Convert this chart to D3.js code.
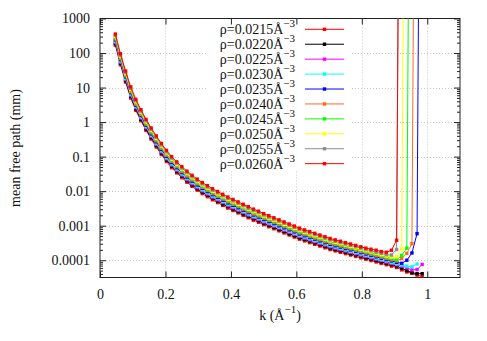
<!DOCTYPE html>
<meta charset="utf-8">
<style>
body { margin: 0; background: #fff; }
text { font-family: "Liberation Serif", "DejaVu Serif", serif; }
</style>
<body>
<script src="https://d3js.org/d3.v7.min.js"></script>
<script>

// k in 1/Angstrom
var kValues = [
  0.0469,0.0625,0.0781,0.0938,0.1094,0.125,0.1406,0.1563,0.1719,0.1875,
  0.2031,0.2188,0.2344,0.25,0.2656,0.2813,0.2969,0.3125,0.3281,0.3438,
  0.3594,0.375,0.3906,0.4063,0.4219,0.4375,0.4531,0.4688,0.4844,0.5,
  0.5156,0.5313,0.5469,0.5625,0.5781,0.5938,0.6094,0.625,0.6406,0.6563,
  0.6719,0.6875,0.7031,0.7188,0.7344,0.75,0.7656,0.7813,0.7969,0.8125,
  0.8281,0.8438,0.8594,0.875,0.8906,0.9063,0.9219,0.9375,0.9531,0.9688,
  0.9844];

// log10 of the mean free path (mm), one array per density
var lg0215 = [
  2.23,1.66,1.16,0.70,0.34,0.04,-0.24,-0.49,-0.72,-0.94,
  -1.14,-1.32,-1.47,-1.61,-1.74,-1.86,-1.97,-2.07,-2.16,-2.25,
  -2.33,-2.41,-2.49,-2.56,-2.63,-2.70,-2.77,-2.84,-2.90,-2.97,
  -3.03,-3.09,-3.15,-3.21,-3.27,-3.33,-3.39,-3.44,-3.49,-3.54,
  -3.59,-3.64,-3.69,-3.73,-3.77,-3.81,-3.85,-3.89,-3.93,-3.97,
  -4.01,-4.05,-4.09,-4.13,-4.17,-4.21,-4.28,-4.34,-4.38,-4.43,
  -4.48];
var lg0220 = [
  2.27,1.70,1.20,0.74,0.38,0.08,-0.20,-0.45,-0.68,-0.90,
  -1.10,-1.28,-1.43,-1.57,-1.70,-1.82,-1.93,-2.03,-2.12,-2.21,
  -2.29,-2.37,-2.45,-2.52,-2.59,-2.66,-2.73,-2.80,-2.86,-2.93,
  -2.99,-3.05,-3.11,-3.17,-3.23,-3.29,-3.35,-3.40,-3.45,-3.50,
  -3.55,-3.60,-3.65,-3.69,-3.73,-3.77,-3.81,-3.85,-3.89,-3.93,
  -3.97,-4.01,-4.05,-4.09,-4.13,-4.17,-4.23,-4.30,-4.36,-4.39,
  -4.39];
var lg0225 = [
  2.31,1.74,1.24,0.78,0.42,0.12,-0.16,-0.41,-0.64,-0.86,
  -1.06,-1.24,-1.39,-1.53,-1.66,-1.78,-1.89,-1.99,-2.08,-2.17,
  -2.25,-2.33,-2.41,-2.48,-2.55,-2.62,-2.69,-2.76,-2.82,-2.89,
  -2.95,-3.01,-3.07,-3.13,-3.19,-3.25,-3.31,-3.36,-3.41,-3.46,
  -3.51,-3.56,-3.61,-3.65,-3.69,-3.73,-3.77,-3.81,-3.85,-3.89,
  -3.93,-3.97,-4.01,-4.05,-4.09,-4.13,-4.17,-4.22,-4.28,-4.27,
  -4.12];
var lg0230 = [
  2.34,1.77,1.27,0.81,0.45,0.15,-0.13,-0.38,-0.61,-0.83,
  -1.03,-1.21,-1.36,-1.50,-1.63,-1.75,-1.86,-1.96,-2.05,-2.14,
  -2.22,-2.30,-2.38,-2.45,-2.52,-2.59,-2.66,-2.73,-2.79,-2.86,
  -2.92,-2.98,-3.04,-3.10,-3.16,-3.22,-3.28,-3.33,-3.38,-3.43,
  -3.48,-3.53,-3.58,-3.62,-3.66,-3.70,-3.74,-3.78,-3.82,-3.86,
  -3.90,-3.94,-3.98,-4.02,-4.06,-4.10,-4.14,-4.17,-4.19,-4.11];
var lg0235 = [
  2.38,1.81,1.31,0.85,0.49,0.19,-0.09,-0.34,-0.57,-0.79,
  -0.99,-1.17,-1.32,-1.46,-1.59,-1.71,-1.82,-1.92,-2.01,-2.10,
  -2.18,-2.26,-2.34,-2.41,-2.48,-2.55,-2.62,-2.69,-2.75,-2.82,
  -2.88,-2.94,-3.00,-3.06,-3.12,-3.18,-3.24,-3.29,-3.34,-3.39,
  -3.44,-3.49,-3.54,-3.58,-3.62,-3.66,-3.70,-3.74,-3.78,-3.82,
  -3.86,-3.90,-3.94,-3.98,-4.02,-4.06,-4.09,-4.00,-3.79,-3.23,
  20];
var lg0240 = [
  2.41,1.84,1.34,0.88,0.52,0.22,-0.06,-0.31,-0.54,-0.76,
  -0.96,-1.14,-1.29,-1.43,-1.56,-1.68,-1.79,-1.89,-1.98,-2.07,
  -2.15,-2.23,-2.31,-2.38,-2.45,-2.52,-2.59,-2.66,-2.72,-2.79,
  -2.85,-2.91,-2.97,-3.03,-3.09,-3.15,-3.21,-3.26,-3.31,-3.36,
  -3.41,-3.46,-3.51,-3.55,-3.59,-3.63,-3.67,-3.71,-3.75,-3.79,
  -3.83,-3.87,-3.91,-3.95,-3.99,-4.02,-3.95,-3.80,-3.52,20];
var lg0245 = [
  2.45,1.88,1.38,0.92,0.56,0.26,-0.02,-0.27,-0.50,-0.72,
  -0.92,-1.10,-1.25,-1.39,-1.52,-1.64,-1.75,-1.85,-1.94,-2.03,
  -2.11,-2.19,-2.27,-2.34,-2.41,-2.48,-2.55,-2.62,-2.68,-2.75,
  -2.81,-2.87,-2.93,-2.99,-3.05,-3.11,-3.17,-3.22,-3.27,-3.32,
  -3.37,-3.42,-3.47,-3.51,-3.55,-3.59,-3.63,-3.67,-3.71,-3.75,
  -3.79,-3.83,-3.87,-3.91,-3.95,-3.99,-3.86,-3.65,20];
var lg0250 = [
  2.48,1.91,1.41,0.95,0.59,0.29,0.01,-0.24,-0.47,-0.69,
  -0.89,-1.07,-1.22,-1.36,-1.49,-1.61,-1.72,-1.82,-1.91,-2.00,
  -2.08,-2.16,-2.24,-2.31,-2.38,-2.45,-2.52,-2.59,-2.65,-2.72,
  -2.78,-2.84,-2.90,-2.96,-3.02,-3.08,-3.14,-3.19,-3.24,-3.29,
  -3.34,-3.39,-3.44,-3.48,-3.52,-3.56,-3.60,-3.64,-3.68,-3.72,
  -3.76,-3.80,-3.84,-3.88,-3.91,-3.90,-3.67,20];
var lg0255 = [
  2.51,1.94,1.44,0.98,0.62,0.32,0.04,-0.21,-0.44,-0.66,
  -0.86,-1.04,-1.19,-1.33,-1.46,-1.58,-1.69,-1.79,-1.88,-1.97,
  -2.05,-2.13,-2.21,-2.28,-2.35,-2.42,-2.49,-2.56,-2.62,-2.69,
  -2.75,-2.81,-2.87,-2.93,-2.99,-3.05,-3.11,-3.16,-3.21,-3.26,
  -3.31,-3.36,-3.41,-3.45,-3.49,-3.53,-3.57,-3.61,-3.65,-3.69,
  -3.73,-3.77,-3.80,-3.84,-3.85,-3.69,20];
var lg0260 = [
  2.55,1.98,1.48,1.02,0.66,0.36,0.08,-0.17,-0.40,-0.62,
  -0.82,-1.00,-1.15,-1.29,-1.42,-1.54,-1.65,-1.75,-1.84,-1.93,
  -2.01,-2.09,-2.17,-2.24,-2.31,-2.38,-2.45,-2.52,-2.58,-2.65,
  -2.71,-2.77,-2.83,-2.89,-2.95,-3.01,-3.07,-3.12,-3.17,-3.22,
  -3.27,-3.32,-3.37,-3.41,-3.45,-3.49,-3.53,-3.57,-3.61,-3.65,
  -3.68,-3.71,-3.75,-3.77,-3.71,-3.42,20];

var densities = ["0.0215","0.0220","0.0225","0.0230","0.0235","0.0240","0.0245","0.0250","0.0255","0.0260"];
var logSeries = [lg0215, lg0220, lg0225, lg0230, lg0235, lg0240, lg0245, lg0250, lg0255, lg0260];
var colors = ["#ff0000","#000000","#ff00ff","#00ffff","#0000ff","#ff6a1f","#00ff00","#ffff00","#8c8c8c","#ff0000"];

var xTickValues = [0, 0.2, 0.4, 0.6, 0.8, 1];
var yTickValues = [0.0001, 0.001, 0.01, 0.1, 1, 10, 100, 1000];

var width = 487, height = 341;
var pLeft = 100, pRight = 460, pTop = 18.5, pBottom = 277.5;

var svg = d3.select("body").append("svg")
    .attr("width", width)
    .attr("height", height);

var x = d3.scaleLinear().domain([0, 1.1]).range([pLeft, pRight]);
var y = d3.scaleLog().domain([Math.pow(10, -4.5), 1000]).range([pBottom, pTop]);

// minor ticks for log axis
var minorTicks = [];
for (var e = -5; e < 3; e++) {
  for (var m = 2; m < 10; m++) {
    var v = m * Math.pow(10, e);
    if (v > y.domain()[0] && v < y.domain()[1]) minorTicks.push(v);
  }
}

// grid
var grid = svg.append("g").attr("stroke", "#c8c8c8").attr("stroke-dasharray", "1,2");
grid.selectAll(".gx").data(xTickValues.filter(function(d) { return d > 0; }))
  .enter().append("line")
    .attr("x1", function(d) { return Math.round(x(d)) + 0.5; })
    .attr("x2", function(d) { return Math.round(x(d)) + 0.5; })
    .attr("y1", pTop).attr("y2", pBottom);
grid.selectAll(".gy").data(yTickValues.filter(function(d) { return d < 1000; }))
  .enter().append("line")
    .attr("y1", function(d) { return Math.round(y(d)) + 0.5; })
    .attr("y2", function(d) { return Math.round(y(d)) + 0.5; })
    .attr("x1", pLeft).attr("x2", pRight);

// legend background hides the grid
svg.append("rect")
    .attr("x", 207).attr("y", 19).attr("width", 145).attr("height", 152)
    .attr("fill", "#fff");

function styleAxis(g) {
  g.select(".domain").remove();
  g.selectAll("line").attr("stroke", "#222");
  g.selectAll("text")
    .attr("font-family", "Liberation Serif, serif")
    .attr("font-size", 14)
    .attr("fill", "#111");
}

svg.append("g").attr("transform", "translate(" + pLeft + ",0)")
  .call(d3.axisLeft(y).tickValues(yTickValues).tickFormat(function(d) { return String(d); })
        .tickSize(-6).tickPadding(10))
  .call(styleAxis);
svg.append("g").attr("transform", "translate(" + pLeft + ",0)")
  .call(d3.axisLeft(y).tickValues(minorTicks).tickFormat("").tickSize(-3))
  .call(styleAxis);
svg.append("g").attr("transform", "translate(" + pRight + ",0)")
  .call(d3.axisRight(y).tickValues(yTickValues).tickFormat("").tickSize(-6))
  .call(styleAxis);
svg.append("g").attr("transform", "translate(" + pRight + ",0)")
  .call(d3.axisRight(y).tickValues(minorTicks).tickFormat("").tickSize(-3))
  .call(styleAxis);
svg.append("g").attr("transform", "translate(0," + pBottom + ")")
  .call(d3.axisBottom(x).tickValues(xTickValues).tickFormat(function(d) { return String(d); })
        .tickSize(-6).tickPadding(11.5))
  .call(styleAxis);
svg.append("g").attr("transform", "translate(0," + pTop + ")")
  .call(d3.axisTop(x).tickValues(xTickValues).tickFormat("").tickSize(-6))
  .call(styleAxis);

// border
svg.append("rect")
    .attr("x", pLeft).attr("y", pTop).attr("width", pRight - pLeft).attr("height", pBottom - pTop)
    .attr("fill", "none").attr("stroke", "#222").attr("stroke-width", 1);

// curves
svg.append("clipPath").attr("id", "plotclip")
  .append("rect").attr("x", pLeft).attr("y", pTop).attr("width", pRight - pLeft).attr("height", pBottom - pTop);

var line = d3.line()
    .x(function(d) { return x(d.k); })
    .y(function(d) { return y(d.v); });

var plot = svg.append("g").attr("clip-path", "url(#plotclip)");

logSeries.forEach(function(lg, j) {
  var pts = lg.map(function(l, i) { return {k: kValues[i], v: Math.pow(10, l)}; });
  plot.append("path")
      .datum(pts)
      .attr("fill", "none")
      .attr("stroke", colors[j])
      .attr("stroke-width", 1)
      .attr("d", line);
  plot.selectAll(".m" + j)
    .data(pts)
    .enter().append("rect")
      .attr("x", function(d) { return x(d.k) - 1.7; })
      .attr("y", function(d) { return y(d.v) - 1.7; })
      .attr("width", 3.4).attr("height", 3.4)
      .attr("fill", colors[j]);
});

// legend
var legend = svg.append("g");
densities.forEach(function(name, j) {
  var ly = 29.3 + j * 14.93;
  var t = legend.append("text")
      .attr("x", 295).attr("y", ly + 5)
      .attr("text-anchor", "end")
      .attr("font-size", 14)
      .attr("fill", "#111");
  t.append("tspan").text("ρ=" + name + "Å");
  t.append("tspan").attr("dy", -7).attr("font-size", 11).text("−3");
  legend.append("line")
      .attr("x1", 305).attr("x2", 344).attr("y1", ly).attr("y2", ly)
      .attr("stroke", colors[j]).attr("stroke-width", 1);
  legend.append("rect")
      .attr("x", 324.5 - 1.7).attr("y", ly - 1.7).attr("width", 3.4).attr("height", 3.4)
      .attr("fill", colors[j]);
});

// axis titles
var xt = svg.append("text")
    .attr("x", 280).attr("y", 320)
    .attr("text-anchor", "middle")
    .attr("font-size", 14)
    .attr("fill", "#111");
xt.append("tspan").text("k (Å");
xt.append("tspan").attr("dy", -7).attr("font-size", 11).text("−1");
xt.append("tspan").attr("dy", 7).text(")");

svg.append("text")
    .attr("transform", "translate(20,148) rotate(-90)")
    .attr("text-anchor", "middle")
    .attr("font-size", 14)
    .attr("fill", "#111")
    .text("mean free path (mm)");

</script>
</body>
